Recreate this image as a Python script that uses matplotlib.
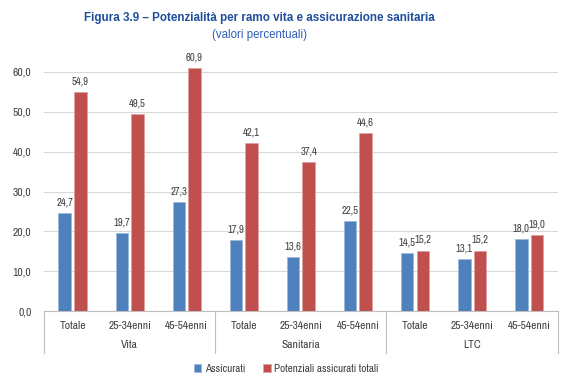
import numpy as np
import matplotlib.pyplot as plt
import matplotlib.transforms as mtransforms
from matplotlib import font_manager

# Dati
gruppi = ["Vita", "Sanitaria", "LTC"]
categorie = ["Totale", "25-34enni", "45-54enni"] * 3
assicurati = [24.7, 19.7, 27.3, 17.9, 13.6, 22.5, 14.5, 13.1, 18.0]
potenziali = [54.9, 49.5, 60.9, 42.1, 37.4, 44.6, 15.2, 15.2, 19.0]
yticks = [0, 10, 20, 30, 40, 50, 60]

blu = "#4F81BD"
rosso = "#C0504D"
grigio = "#404040"

# cerca un font stretto (tipo Arial Narrow), preferendo Liberation Sans Narrow
stretti = [f for f in font_manager.fontManager.ttflist
           if ("Narrow" in f.name or "Condensed" in f.name or f.stretch == "condensed"
               or "Condensed" in f.fname or "Narrow" in f.fname)]
stretti.sort(key=lambda f: (0 if "Narrow" in f.name or "Narrow" in f.fname else 1,
                            f.weight != 400))
if stretti:
    nome = stretti[0].name
    stretch = stretti[0].stretch
    narrow = "Narrow" in nome or "Narrow" in stretti[0].fname
else:
    nome = "Liberation Sans"
    stretch = "normal"
    narrow = False
plt.rcParams["font.family"] = [nome, "DejaVu Sans"]
plt.rcParams["font.stretch"] = stretch
fs = 8.3 if narrow else 7

fig = plt.figure(figsize=(5.72, 3.87), dpi=100)
ax = fig.add_axes([0.077, 0.196, 0.898, 0.649])

x = np.arange(len(categorie))
w = 0.22
b1 = ax.bar(x - 0.137, assicurati, w, color=blu, edgecolor="#9DB9DC", linewidth=0.6,
            label="Assicurati", zorder=3)
b2 = ax.bar(x + 0.137, potenziali, w, color=rosso, edgecolor="#E0A09E", linewidth=0.6,
            label="Potenziali assicurati totali", zorder=3)

for barre in (b1, b2):
    ax.bar_label(barre, labels=[f"{v:.1f}".replace(".", ",") for v in barre.datavalues],
                 padding=4, fontsize=fs - 0.6, color=grigio)

ax.set_xlim(-0.5, len(categorie) - 0.5)
ax.set_ylim(0, 63)
ax.set_yticks(yticks)
ax.set_yticklabels([f"{v:.1f}".replace(".", ",") for v in yticks], fontsize=fs, color=grigio)
ax.tick_params(axis="y", length=0, pad=9)
ax.yaxis.grid(True, color="#D9D9D9", linewidth=0.8, zorder=0)

ax.set_xticks(x)
ax.set_xticklabels(categorie, fontsize=fs, color=grigio)
ax.tick_params(axis="x", length=0, pad=7)

for s in ["top", "right", "left"]:
    ax.spines[s].set_visible(False)
ax.spines["bottom"].set_color("#BFBFBF")

trans = mtransforms.blended_transform_factory(ax.transData, ax.transAxes)
for sep in [-0.5, 2.5, 5.5, 8.5]:
    ax.plot([sep, sep], [0, -0.167], transform=trans, color="#BFBFBF", linewidth=0.8,
            clip_on=False)
for i, g in enumerate(gruppi):
    ax.text(3 * i + 1, -0.135, g, transform=trans, ha="center", va="center",
            fontsize=fs, color=grigio)

fig.text(0.453, 0.953, "Figura 3.9 – Potenzialità per ramo vita e assicurazione sanitaria",
         ha="center", va="center", fontsize=8.4, fontweight="bold", color="#1F4E9A",
         family=["Liberation Sans", "DejaVu Sans"], fontstretch="normal")
fig.text(0.453, 0.91, "(valori percentuali)", ha="center", va="center", fontsize=8.3,
         color="#2E5FB5", family=["Liberation Sans", "DejaVu Sans"], fontstretch="normal")

fig.legend(handles=[b1, b2], loc="center", bbox_to_anchor=(0.5, 0.046), ncol=2,
           frameon=False, fontsize=fs - 0.3, handlelength=0.7, handleheight=0.7,
           handletextpad=0.3, columnspacing=1.6, labelcolor=grigio)

fig.savefig("out.png", dpi=100)
